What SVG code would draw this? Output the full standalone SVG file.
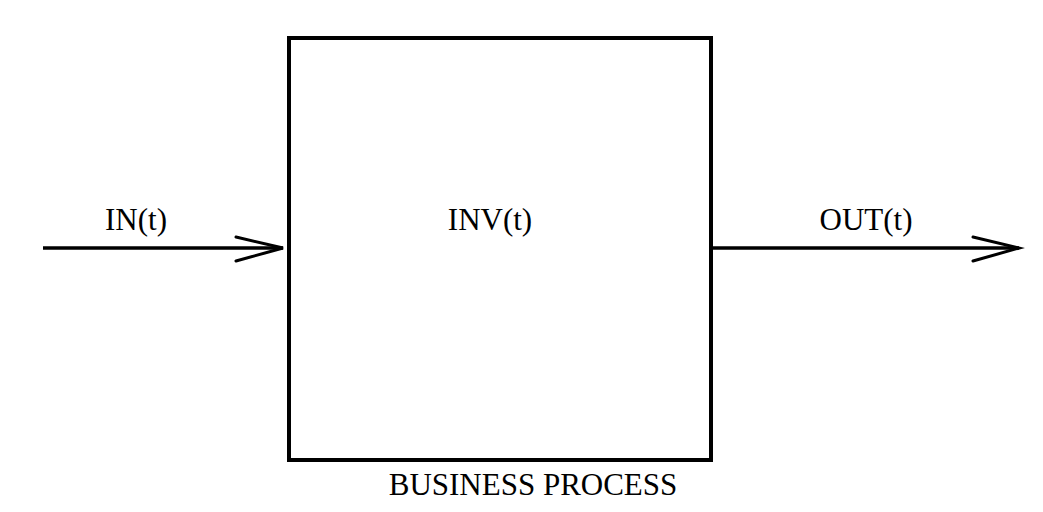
<svg xmlns="http://www.w3.org/2000/svg" width="1043" height="512" viewBox="0 0 1043 512">
<style>
text{font-family:"Liberation Serif","Times New Roman",serif;font-size:31px;fill:#000;text-anchor:middle}
.ln{stroke:#000;stroke-width:3.5;fill:none}
.hd{stroke:#000;stroke-width:3;fill:none;stroke-linecap:round;stroke-linejoin:miter}
</style>
<rect width="1043" height="512" fill="#fff"/>
<g id="process">
<rect x="289" y="38" width="422" height="422" fill="none" stroke="#000" stroke-width="4"/>
<text x="490" y="230">INV(t)</text>
<text x="533" y="495">BUSINESS PROCESS</text>
</g>
<g id="connectors">
<line class="ln" x1="43" y1="248" x2="283" y2="248"/>
<polyline class="hd" points="236,237 283,248 236,261"/>
<line class="ln" x1="711" y1="248" x2="1019" y2="248"/>
<polyline class="hd" points="973,237 1019,248 973,261"/>
</g>
<g id="labels">
<text x="136" y="230">IN(t)</text>
<text x="866" y="230">OUT(t)</text>
</g>
</svg>
